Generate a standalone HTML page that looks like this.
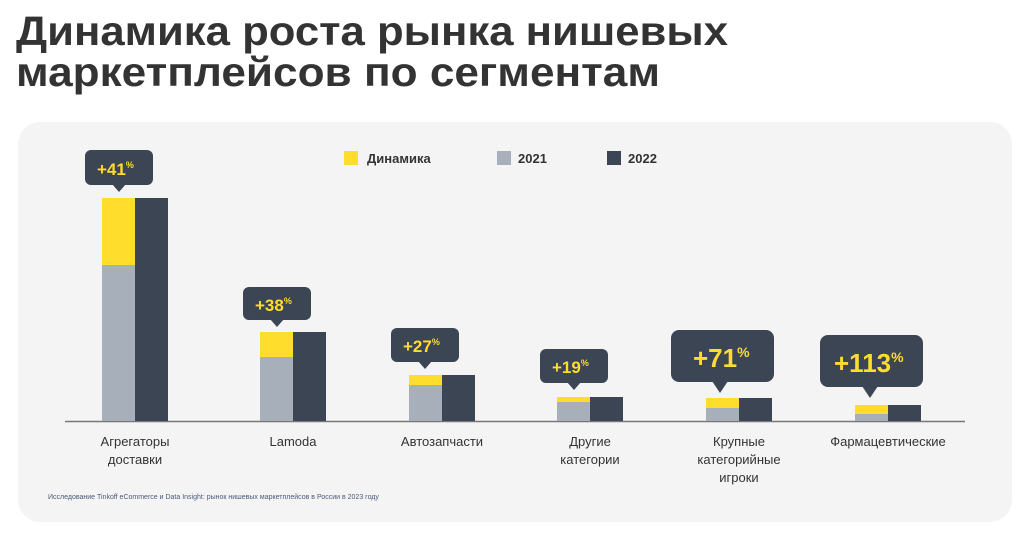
<!DOCTYPE html>
<html><head><meta charset="utf-8"><style>
body{margin:0;background:#fff;width:1024px;height:528px;overflow:hidden}
</style></head><body>
<svg width="1024" height="528" xmlns="http://www.w3.org/2000/svg" font-family="Liberation Sans, DejaVu Sans, sans-serif">
<rect width="1024" height="528" fill="#fff"/>
<g fill="#333" font-weight="bold" font-size="41">
<text x="16" y="45" textLength="712" lengthAdjust="spacingAndGlyphs">Динамика роста рынка нишевых</text>
<text x="16" y="86" textLength="644" lengthAdjust="spacingAndGlyphs">маркетплейсов по сегментам</text>
</g>
<rect x="18" y="122" width="994" height="400" rx="22" fill="#f4f4f4"/>
<!-- legend -->
<g font-size="13" font-weight="bold" fill="#333">
<rect x="344" y="151" width="14" height="14" fill="#ffdd2d"/><text x="367" y="163">Динамика</text>
<rect x="497" y="151" width="14" height="14" fill="#a7afbb"/><text x="518" y="163">2021</text>
<rect x="607" y="151" width="14" height="14" fill="#3c4554"/><text x="628" y="163">2022</text>
</g>
<line x1="65" y1="421.5" x2="965" y2="421.5" stroke="#777" stroke-width="1.5"/>
<g>
<!-- bar1 -->
<rect x="102" y="198" width="33" height="223" fill="#a7afbb"/><rect x="102" y="198" width="33" height="67" fill="#ffdd2d"/><rect x="135" y="198" width="33" height="223" fill="#3c4554"/>
<rect x="260" y="332" width="33" height="89" fill="#a7afbb"/><rect x="260" y="332" width="33" height="25" fill="#ffdd2d"/><rect x="293" y="332" width="33" height="89" fill="#3c4554"/>
<rect x="409" y="375" width="33" height="46" fill="#a7afbb"/><rect x="409" y="375" width="33" height="10" fill="#ffdd2d"/><rect x="442" y="375" width="33" height="46" fill="#3c4554"/>
<rect x="557" y="397" width="33" height="24" fill="#a7afbb"/><rect x="557" y="397" width="33" height="5" fill="#ffdd2d"/><rect x="590" y="397" width="33" height="24" fill="#3c4554"/>
<rect x="706" y="398" width="33" height="23" fill="#a7afbb"/><rect x="706" y="398" width="33" height="10" fill="#ffdd2d"/><rect x="739" y="398" width="33" height="23" fill="#3c4554"/>
<rect x="855" y="405" width="33" height="16" fill="#a7afbb"/><rect x="855" y="405" width="33" height="9" fill="#ffdd2d"/><rect x="888" y="405" width="33" height="16" fill="#3c4554"/>
</g>
<!-- callouts -->
<g fill="#3c4554">
<rect x="85" y="150" width="68" height="35" rx="6"/><path d="M112 184 L119 192 L126 184Z"/>
<rect x="243" y="287" width="68" height="33" rx="6"/><path d="M270 319 L277 327 L284 319Z"/>
<rect x="391" y="328" width="68" height="34" rx="6"/><path d="M418 361 L425 369 L432 361Z"/>
<rect x="540" y="349" width="68" height="34" rx="6"/><path d="M567 382 L574 390 L581 382Z"/>
<rect x="671" y="330" width="103" height="52" rx="8"/><path d="M712 381 L720 393 L728 381Z"/>
<rect x="820" y="335" width="103" height="52" rx="8"/><path d="M862 386 L870 398 L878 386Z"/>
</g>
<g fill="#ffdd2d" font-weight="bold">
<text x="97" y="175" font-size="17">+41<tspan font-size="9" dy="-7">%</tspan></text>
<text x="255" y="311" font-size="17">+38<tspan font-size="9" dy="-7">%</tspan></text>
<text x="403" y="352" font-size="17">+27<tspan font-size="9" dy="-7">%</tspan></text>
<text x="552" y="373" font-size="17">+19<tspan font-size="9" dy="-7">%</tspan></text>
<text x="693" y="367" font-size="26">+71<tspan font-size="14" dy="-10">%</tspan></text>
<text x="834" y="372" font-size="26">+113<tspan font-size="14" dy="-10">%</tspan></text>
</g>
<g font-size="13" fill="#333" text-anchor="middle">
<text x="135" y="446">Агрегаторы</text><text x="135" y="464">доставки</text>
<text x="293" y="446">Lamoda</text>
<text x="442" y="446">Автозапчасти</text>
<text x="590" y="446">Другие</text><text x="590" y="464">категории</text>
<text x="739" y="446">Крупные</text><text x="739" y="464">категорийные</text><text x="739" y="482">игроки</text>
<text x="888" y="446">Фармацевтические</text>
</g>
<text x="48" y="499" font-size="7" fill="#4a5a7a">Исследование Tinkoff eCommerce и Data Insight: рынок нишевых маркетплейсов в России в 2023 году</text>
</svg>
</body></html>
